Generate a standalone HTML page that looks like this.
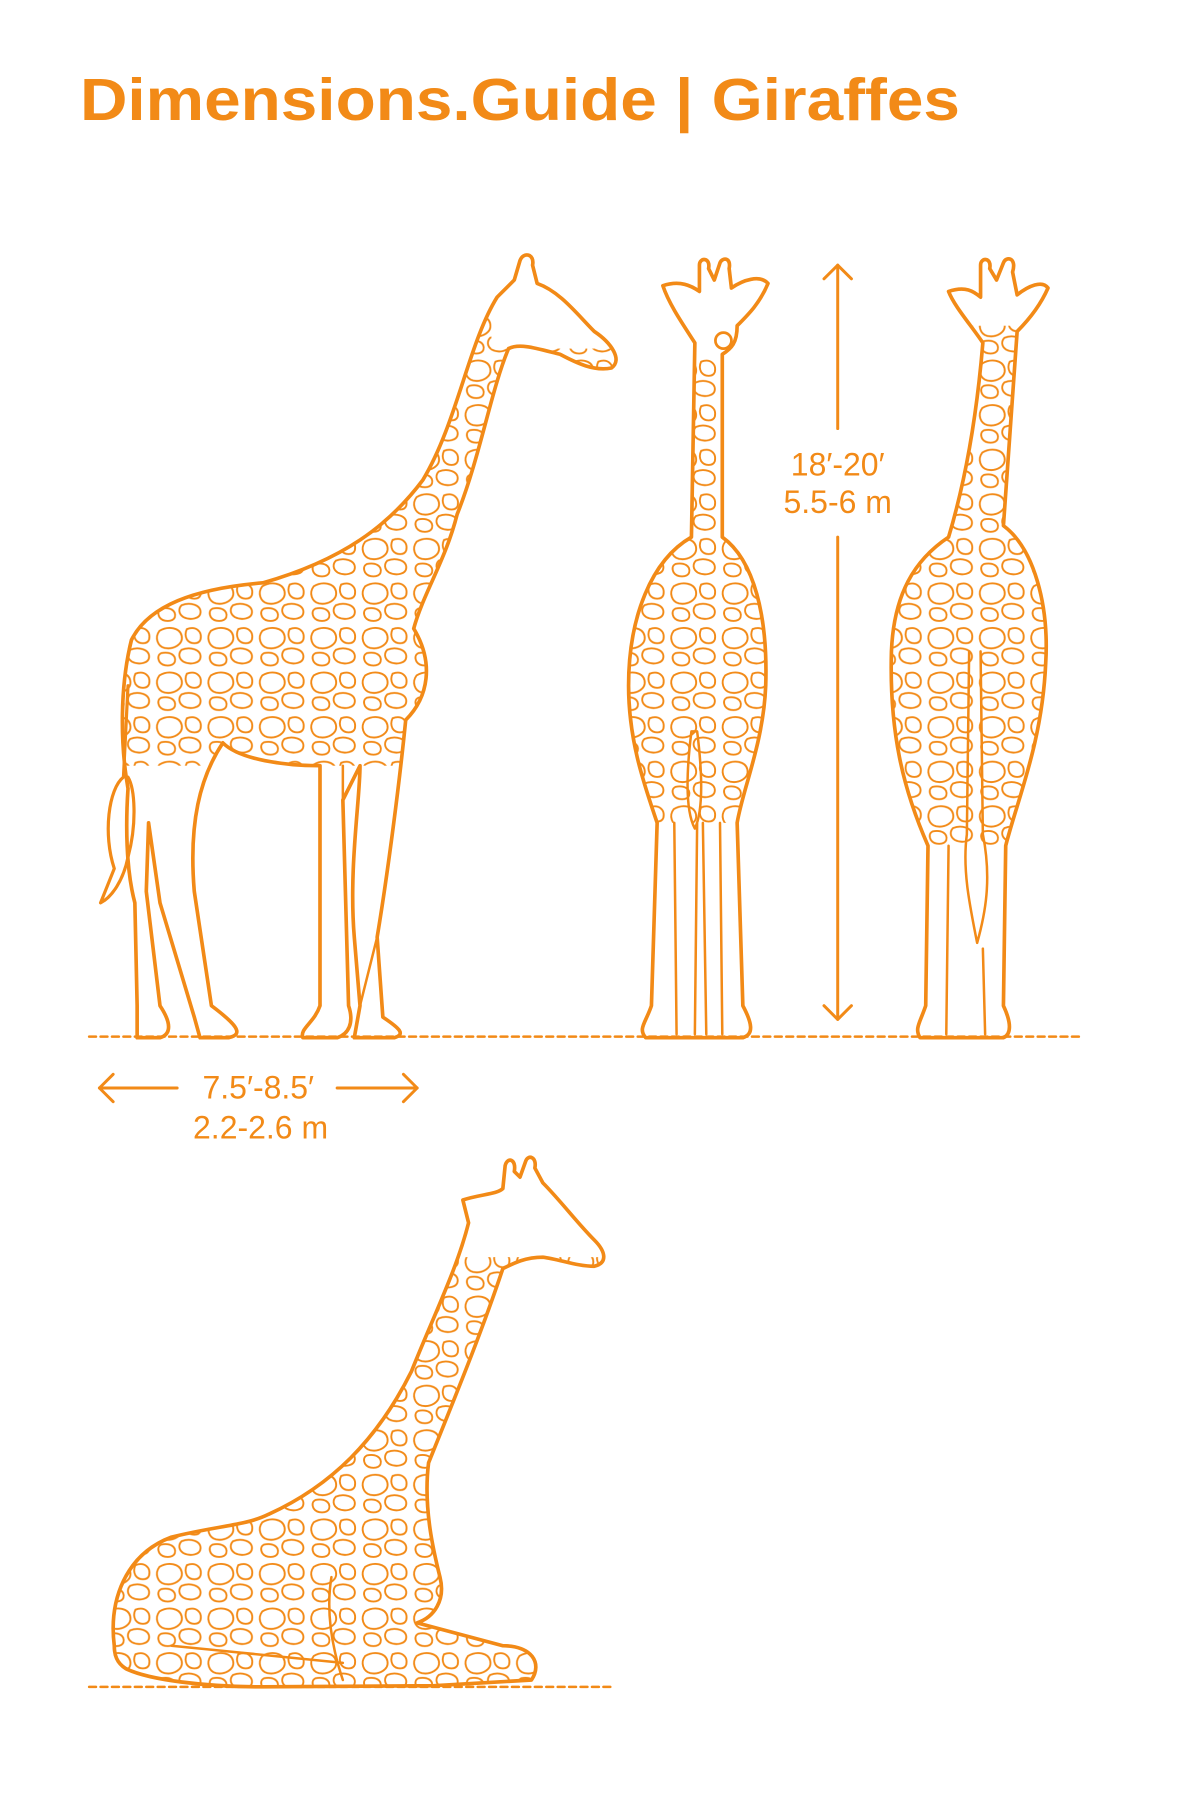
<!DOCTYPE html>
<html><head><meta charset="utf-8"><style>
html,body{margin:0;padding:0;background:#fff;}
svg{display:block;}
</style></head><body>
<svg width="1200" height="1800" viewBox="0 0 1200 1800">
<defs>
<pattern id="spots" width="30" height="26" patternUnits="userSpaceOnUse" patternTransform="scale(1.5)">
<path d="M3 4 C8 1 15 2 16 7 C17 12 11 15 6 14 C2 13 0 8 3 4Z M19 3 C24 1 28 4 27 9 C26 12 21 12 19 9 C18 7 18 5 19 3Z M4 17 C9 16 13 18 12 22 C11 25 5 25 3 22 C2 20 2 18 4 17Z M16 15 C21 13 27 15 27 19 C27 23 21 24 17 22 C14 20 14 17 16 15Z" fill="none" stroke="#F28A17" stroke-width="1.1"/>
</pattern>
<clipPath id="c1"><path id="side" d="M115 560 C130 530 170 515 230 510 C300 490 340 460 370 420 C400 370 410 300 435 260 L450 245 L455 228 C458 220 468 222 466 232 L470 248 C490 255 505 275 520 290 C535 300 545 315 535 322 C520 325 505 318 490 310 C470 305 455 300 445 305 C430 340 420 400 400 450 C390 490 370 520 362 550 C380 580 375 610 355 630 C350 680 340 760 330 820 L335 890 C350 900 355 905 345 908 L310 908 L315 880 L310 820 C305 760 315 700 315 670 L300 700 L305 880 C310 895 305 905 295 908 L265 908 C262 900 275 895 280 880 L280 670 C250 670 210 665 195 650 C175 680 165 720 170 780 L185 880 C205 895 215 905 200 908 L175 908 L170 890 L140 790 L130 720 L128 780 L140 880 C150 895 150 905 140 908 L120 908 L120 880 L118 790 C110 760 110 720 112 690 C105 650 105 600 115 560 Z"/></clipPath>
<clipPath id="c2"><path id="front" d="M608 300 C595 280 585 265 580 250 C595 245 605 250 612 255 L612 232 C612 225 622 225 620 235 L625 245 L630 230 C632 225 640 225 638 235 L640 252 C650 245 665 240 672 248 C665 265 655 275 645 285 C645 300 640 305 632 310 L632 470 C660 490 672 540 670 600 C668 650 650 690 645 720 L650 880 C658 895 660 905 650 908 L565 908 C558 900 565 895 570 880 L575 720 C565 690 550 650 550 600 C550 540 570 490 605 470 L608 300 Z"/></clipPath>
<clipPath id="c3"><path id="back" d="M860 300 C850 285 835 268 830 255 C845 250 852 255 858 260 L858 232 C858 225 868 225 866 235 L872 245 L878 230 C880 224 890 225 886 238 L890 258 C900 250 912 245 917 252 C910 268 900 280 890 290 L878 460 C905 480 918 530 915 580 C912 650 890 700 880 740 L878 880 C885 895 885 905 878 908 L805 908 C800 900 805 895 810 880 L812 740 C790 690 778 640 780 570 C782 520 800 490 830 470 C845 420 855 360 860 300 Z"/></clipPath>
<clipPath id="c4"><path id="lying" d="M100 1440 C95 1400 110 1360 150 1345 C190 1335 215 1335 235 1325 C290 1300 330 1260 360 1200 C380 1150 400 1110 410 1070 L405 1050 C420 1045 435 1045 440 1040 L442 1020 C444 1012 452 1014 450 1025 L455 1030 L460 1016 C462 1010 470 1012 468 1022 L475 1035 C490 1050 505 1070 520 1085 C530 1095 532 1105 520 1108 C505 1108 490 1102 475 1100 C460 1100 450 1105 440 1110 C420 1170 395 1230 375 1280 C370 1320 380 1360 385 1380 C390 1400 380 1415 365 1420 L440 1440 C465 1440 475 1455 465 1470 L380 1475 L230 1476 C180 1476 130 1470 110 1460 C102 1455 100 1448 100 1440 Z"/></clipPath>
</defs>
<g transform="scale(1.142857)" fill="none" stroke="#F28A17" stroke-linecap="round" stroke-linejoin="round">
<text x="70" y="105" font-family="Liberation Sans, sans-serif" font-weight="bold" font-size="52" fill="#F28A17" stroke="none" textLength="770" lengthAdjust="spacingAndGlyphs">Dimensions.Guide | Giraffes</text>

<g>
<rect x="100" y="250" width="450" height="420" fill="url(#spots)" stroke="none" clip-path="url(#c1)"/>
<rect x="430" y="220" width="120" height="85" fill="#fff" stroke="none"/>
<use href="#side" stroke-width="3.2"/>
<path d="M112 600 L108 680 C95 690 90 730 100 760 L88 790 C98 785 108 770 112 750 C120 720 118 690 112 680" stroke-width="2.8"/>
<path d="M300 700 L300 670 M330 820 L315 880" stroke-width="2.2"/>
</g>

<g>
<rect x="550" y="310" width="125" height="410" fill="url(#spots)" stroke="none" clip-path="url(#c2)"/>
<use href="#front" stroke-width="3.2"/>
<path d="M590 720 L592 905 M610 720 L608 905 M615 720 L618 905 M630 720 L632 905 M605 640 C600 680 600 710 608 725 C615 710 615 680 610 640 Z" stroke-width="2.2"/>
<circle cx="633" cy="298" r="7" stroke-width="2.4"/>
</g>

<g>
<rect x="780" y="285" width="140" height="455" fill="url(#spots)" stroke="none" clip-path="url(#c3)"/>
<use href="#back" stroke-width="3.2"/>
<path d="M848 570 L846 730 C842 760 848 790 855 825 C862 800 868 770 860 730 L858 570 M830 740 L828 905 M860 830 L862 905" stroke-width="2.2"/>
</g>

<g>
<rect x="95" y="1100" width="440" height="380" fill="url(#spots)" stroke="none" clip-path="url(#c4)"/>
<use href="#lying" stroke-width="3.2"/>
<path d="M290 1380 C285 1410 290 1440 300 1470 M150 1440 C200 1445 250 1450 300 1455" stroke-width="2.2"/>
</g>

<g stroke-width="2.2" stroke-dasharray="6 4">
<line x1="78" y1="907" x2="945" y2="907"/>
<line x1="78" y1="1476" x2="535" y2="1476"/>
</g>

<g stroke-width="2.6">
<line x1="733" y1="232" x2="733" y2="375"/>
<line x1="733" y1="470" x2="733" y2="892"/>
<path d="M721 244 L733 232 L745 244 M721 880 L733 892 L745 880"/>
<text x="733" y="416" text-anchor="middle" font-family="Liberation Sans, sans-serif" font-size="28" fill="#F28A17" stroke="none">18′-20′</text>
<text x="733" y="449" text-anchor="middle" font-family="Liberation Sans, sans-serif" font-size="28" fill="#F28A17" stroke="none">5.5-6 m</text>
</g>

<g stroke-width="2.6">
<line x1="87" y1="952" x2="155" y2="952"/>
<line x1="295" y1="952" x2="365" y2="952"/>
<path d="M99 940 L87 952 L99 964 M353 940 L365 952 L353 964"/>
<text x="226" y="961" text-anchor="middle" font-family="Liberation Sans, sans-serif" font-size="28" fill="#F28A17" stroke="none">7.5′-8.5′</text>
<text x="228" y="996" text-anchor="middle" font-family="Liberation Sans, sans-serif" font-size="28" fill="#F28A17" stroke="none">2.2-2.6 m</text>
</g>
</g>
</svg>
</body></html>
